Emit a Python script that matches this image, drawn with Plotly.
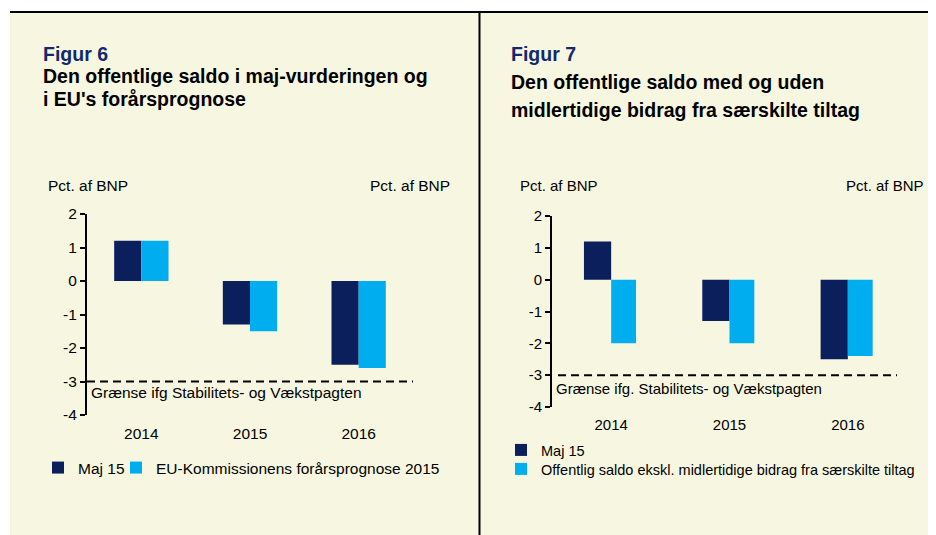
"""Offentlig saldo: Figur 6 og Figur 7 side om side"""
import plotly.graph_objects as go

YEARS = ["2014", "2015", "2016"]

# Figur 6
FIG6_MAJ_15 = [1.2, -1.3, -2.5]
FIG6_EU_PROGNOSE = [1.2, -1.5, -2.6]

# Figur 7
FIG7_MAJ_15 = [1.2, -1.3, -2.5]
FIG7_EKSKL_TILTAG = [-2.0, -2.0, -2.4]

LIMIT = -3
Y_TICKS = [-4, -3, -2, -1, 0, 1, 2]
Y_TICK_LABELS = ["-4", "-3", "-2", "-1", "0", "1", "2"]

# the page body has an 8px margin and only 920px of width is shown
PAGE_MARGIN = 8
W, H = 936 - 2 * PAGE_MARGIN, 535 - PAGE_MARGIN
NAVY = "#0b1f5c"
CYAN = "#00aeef"
BEIGE = "#f7f7e1"
TITLE_BLUE = "#12296b"
FONT = "Liberation Sans, Arial, sans-serif"


def px_x(x):
    """screen x pixel -> paper fraction"""
    return (x - PAGE_MARGIN) / W


def px_y(y):
    """screen y pixel -> paper fraction"""
    return 1 - (y - PAGE_MARGIN) / H


def y_axis(domain, font_size, **kw):
    """Left/right value axis with the -4..2 scale"""
    axis = dict(
        domain=domain, range=[-4, 2], tickvals=Y_TICKS, ticktext=Y_TICK_LABELS,
        showgrid=False, zeroline=False, showline=True, linecolor="black",
        linewidth=2, ticks="outside", ticklen=5, tickwidth=2, tickcolor="black",
        tickfont=dict(size=font_size), fixedrange=True, automargin=False,
    )
    axis.update(kw)
    return axis


def zero_axis(overlay, ydomain):
    """Axis drawn at y=0 carrying the ticks between the years"""
    pos = ydomain[0] + (0 - (-4)) / 6 * (ydomain[1] - ydomain[0])
    return dict(
        overlaying=overlay, anchor="free", position=pos, type="linear",
        range=[-0.5, 2.5], showline=True, linecolor="black", linewidth=2,
        ticks="outside", tickvals=[0.5, 1.5], ticklen=5, tickwidth=2,
        tickcolor="black", showticklabels=False, showgrid=False,
        zeroline=False, fixedrange=True, automargin=False,
    )


def year_axis(domain, anchor, font_size):
    """Bottom axis that only carries the year labels"""
    return dict(domain=domain, anchor=anchor, showline=False, showgrid=False,
                zeroline=False, ticks="outside", ticklen=4, tickcolor="rgba(0,0,0,0)",
                tickfont=dict(size=font_size), fixedrange=True, automargin=False)


def legend_box(text_x, y_mid, font_size):
    """One-entry legend; plotly puts the text 40px right of the legend's left edge"""
    return dict(x=px_x(text_x - 40), y=px_y(y_mid), xanchor="left", yanchor="middle",
                orientation="h", bgcolor="rgba(0,0,0,0)", font=dict(size=font_size),
                itemclick=False, itemdoubleclick=False)


x1_dom = [px_x(87), px_x(413)]
y1_dom = [px_y(415), px_y(214)]
x2_dom = [px_x(552), px_x(907)]
y2_dom = [px_y(407), px_y(216)]

fig = go.Figure()
fig.add_trace(go.Bar(x=YEARS, y=FIG6_MAJ_15, name="Maj 15", marker_color=NAVY,
                     width=0.25, offset=-0.25, xaxis="x", yaxis="y", legend="legend"))
fig.add_trace(go.Bar(x=YEARS, y=FIG6_EU_PROGNOSE, name="EU-Kommissionens forårsprognose 2015",
                     marker_color=CYAN, width=0.25, offset=0, xaxis="x", yaxis="y",
                     legend="legend2"))
fig.add_trace(go.Bar(x=YEARS, y=FIG7_MAJ_15, name="Maj 15", marker_color=NAVY,
                     width=0.23, offset=-0.23, xaxis="x2", yaxis="y3", legend="legend3"))
fig.add_trace(go.Bar(x=YEARS, y=FIG7_EKSKL_TILTAG,
                     name="Offentlig saldo ekskl. midlertidige bidrag fra særskilte tiltag",
                     marker_color=CYAN, width=0.21, offset=0, xaxis="x2", yaxis="y3",
                     legend="legend4"))
fig.update_traces(marker_line_width=0, hoverinfo="x+y+name")

shapes = [
    dict(type="rect", xref="paper", yref="paper", x0=px_x(10), x1=1, y0=0, y1=px_y(12),
         fillcolor=BEIGE, line_width=0, layer="below"),
    dict(type="line", xref="paper", yref="paper", x0=px_x(10), x1=1, y0=px_y(12), y1=px_y(12),
         line=dict(color="black", width=2)),
    dict(type="line", xref="paper", yref="paper", x0=px_x(479.5), x1=px_x(479.5), y0=0,
         y1=px_y(12), line=dict(color="black", width=2)),
    dict(type="line", xref="x domain", yref="y", x0=0, x1=1, y0=LIMIT, y1=LIMIT,
         line=dict(color="black", width=2, dash="8px,5px")),
    dict(type="line", xref="x2 domain", yref="y3", x0=0.017, x1=0.972, y0=LIMIT, y1=LIMIT,
         line=dict(color="black", width=2, dash="8px,5px")),
]


def text(t, x, y, size, xanchor="left", bold=False, color="black", **kw):
    if bold:
        t = f"<b>{t}</b>"
    return dict(text=t, x=x, y=y, xref=kw.pop("xref", "paper"), yref=kw.pop("yref", "paper"),
                xanchor=xanchor, yanchor=kw.pop("yanchor", "middle"), showarrow=False,
                font=dict(size=size, color=color), **kw)


annotations = [
    text("Figur 6", px_x(41), px_y(54), 19.5, bold=True, color=TITLE_BLUE),
    text("Den offentlige saldo i maj-vurderingen og", px_x(41), px_y(76), 19.5, bold=True),
    text("i EU's forårsprognose", px_x(41), px_y(99), 19.5, bold=True),
    text("Figur 7", px_x(509), px_y(54), 19.5, bold=True, color=TITLE_BLUE),
    text("Den offentlige saldo med og uden", px_x(509), px_y(82), 19.5, bold=True),
    text("midlertidige bidrag fra særskilte tiltag", px_x(509), px_y(110), 19.5, bold=True),
    text("Pct. af BNP", px_x(46), px_y(185), 15.5),
    text("Pct. af BNP", px_x(452), px_y(185), 15.5, xanchor="right"),
    text("Pct. af BNP", px_x(518), px_y(185), 15),
    text("Pct. af BNP", px_x(926), px_y(185), 15, xanchor="right"),
    text("Grænse ifg Stabilitets- og Vækstpagten", 0.0, LIMIT, 15.5,
         xref="x domain", yref="y", yanchor="top", xshift=2),
    text("Grænse ifg. Stabilitets- og Vækstpagten", 0.0, LIMIT, 15,
         xref="x2 domain", yref="y3", yanchor="top", xshift=2, yshift=-3),
]

fig.update_layout(
    template="none",
    width=W, height=H, margin=dict(l=0, r=0, t=0, b=0, pad=0, autoexpand=False),
    paper_bgcolor="white", plot_bgcolor="rgba(0,0,0,0)",
    font=dict(family=FONT, size=15, color="black"),
    barmode="overlay", showlegend=True,
    xaxis=year_axis(x1_dom, "y", 15.5),
    xaxis2=year_axis(x2_dom, "y3", 15),
    xaxis3=zero_axis("x", y1_dom),
    xaxis4=zero_axis("x2", y2_dom),
    yaxis=y_axis(y1_dom, 15.5, anchor="x"),
    yaxis2=y_axis(y1_dom, 15.5, anchor="x", overlaying="y", side="right"),
    yaxis3=y_axis(y2_dom, 15, anchor="x2"),
    yaxis4=y_axis(y2_dom, 15, anchor="x2", overlaying="y3", side="right"),
    legend=legend_box(78, 468, 15.5),
    legend2=legend_box(156, 468, 15.5),
    legend3=legend_box(541, 450, 14.5),
    legend4=legend_box(541, 469, 14.5),
    shapes=shapes,
    annotations=annotations,
)

fig.write_html("out.html")
